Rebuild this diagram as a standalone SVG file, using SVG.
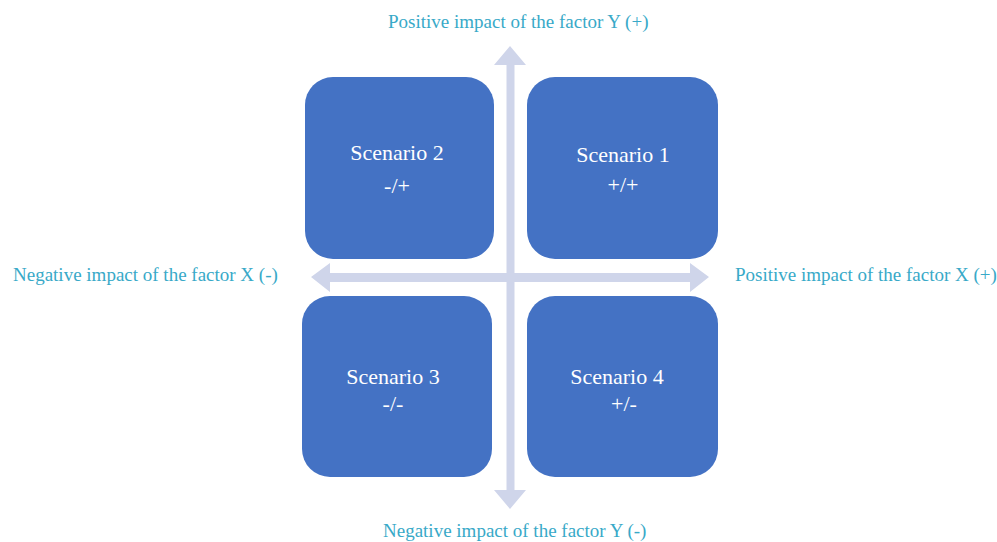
<svg xmlns="http://www.w3.org/2000/svg" width="997" height="542" viewBox="0 0 997 542">
<style>
.box{fill:#4472C4}
.st{font-family:"Liberation Serif","Times New Roman",serif;font-size:22px;fill:#FFFFFF;text-anchor:middle}
.lb{font-family:"Liberation Serif","Times New Roman",serif;font-size:19px;fill:#38A9C8}
.ax{fill:#CFD5EA}
</style>
<rect width="997" height="542" fill="#FFFFFF"/>
<g id="connectors">
<polygon class="ax" points="510,46 526,65 514.5,65 514.5,490 526,490 510,509 494,490 506.5,490 506.5,65 494,65"/>
<polygon class="ax" points="311,277 330,263 330,273 690,273 690,263 709,277 690,292 690,282 330,282 330,292"/>
</g>
<g id="scenario2"><rect class="box" x="305" y="77" width="189" height="182" rx="28"/><text class="st" x="397" y="160">Scenario 2</text><text class="st" x="397" y="193">-/+</text></g>
<g id="scenario1"><rect class="box" x="527" y="77" width="191" height="182" rx="28"/><text class="st" x="623" y="162">Scenario 1</text><text class="st" x="623" y="192">+/+</text></g>
<g id="scenario3"><rect class="box" x="302" y="296" width="190" height="181" rx="28"/><text class="st" x="393" y="384">Scenario 3</text><text class="st" x="393" y="411">-/-</text></g>
<g id="scenario4"><rect class="box" x="527" y="296" width="191" height="181" rx="28"/><text class="st" x="617" y="384">Scenario 4</text><text class="st" x="624" y="411">+/-</text></g>
<text class="lb" x="388" y="28">Positive impact of the factor Y (+)</text>
<text class="lb" x="383" y="537">Negative impact of the factor Y (-)</text>
<text class="lb" x="13" y="281">Negative impact of the factor X (-)</text>
<text class="lb" x="735" y="281">Positive impact of the factor X (+)</text>
</svg>
